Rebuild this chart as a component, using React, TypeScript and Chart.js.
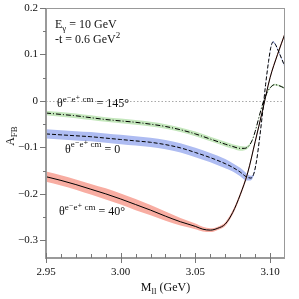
import { useEffect, useRef } from "react";
import { Chart, registerables } from "chart.js";

Chart.register(...registerables);

// ---- Data ----
const redX = [2.95, 2.96, 2.97, 2.98, 2.99, 3.0, 3.01, 3.02, 3.03, 3.04, 3.05, 3.055, 3.06, 3.065, 3.07, 3.075, 3.08, 3.085, 3.09, 3.095, 3.1, 3.105, 3.11];
const redY = [-0.163, -0.171, -0.18, -0.19, -0.2, -0.211, -0.223, -0.235, -0.248, -0.26, -0.27, -0.276, -0.278, -0.274, -0.265, -0.24, -0.202, -0.155, -0.088, -0.02, 0.05, 0.1, 0.145];
const redErr = [0.011, 0.011, 0.011, 0.0115, 0.012, 0.012, 0.012, 0.011, 0.01, 0.008, 0.006, 0.005, 0.004, 0.0035, 0.004, 0.0045, 0.0045, 0.0045, 0.0045, 0.004, 0.004, 0.004, 0.004];

const blueX = [2.95, 2.96, 2.97, 2.98, 2.99, 3.0, 3.01, 3.02, 3.03, 3.04, 3.05, 3.06, 3.07, 3.075, 3.08, 3.084, 3.087, 3.089, 3.091, 3.093, 3.095, 3.097, 3.099, 3.1005, 3.102, 3.1035, 3.1055, 3.108, 3.11];
const blueY = [-0.071, -0.073, -0.075, -0.077, -0.08, -0.083, -0.086, -0.089, -0.094, -0.101, -0.111, -0.122, -0.135, -0.143, -0.153, -0.163, -0.166, -0.158, -0.128, -0.08, -0.025, 0.035, 0.085, 0.115, 0.127, 0.122, 0.108, 0.089, 0.073];
const blueErr = [0.01, 0.01, 0.01, 0.01, 0.01, 0.01, 0.01, 0.01, 0.01, 0.01, 0.01, 0.01, 0.01, 0.009, 0.009, 0.008, 0.005, 0.003, 0.002, 0.002, 0.002, 0.002, 0.002, 0.002, 0.002, 0.002, 0.002, 0.002, 0.002];

const greenX = [2.95, 2.96, 2.97, 2.98, 2.99, 3.0, 3.01, 3.02, 3.03, 3.04, 3.05, 3.06, 3.07, 3.075, 3.08, 3.083, 3.086, 3.088, 3.09, 3.092, 3.094, 3.096, 3.098, 3.1, 3.103, 3.106, 3.11];
const greenY = [-0.026, -0.029, -0.032, -0.036, -0.04, -0.043, -0.046, -0.05, -0.055, -0.062, -0.071, -0.082, -0.093, -0.098, -0.102, -0.102, -0.096, -0.085, -0.066, -0.042, -0.018, 0.003, 0.018, 0.028, 0.035, 0.033, 0.027];
const greenErr = [0.005, 0.005, 0.005, 0.005, 0.005, 0.005, 0.005, 0.005, 0.005, 0.005, 0.005, 0.005, 0.005, 0.005, 0.005, 0.004, 0.003, 0.002, 0.002, 0.002, 0.002, 0.002, 0.002, 0.002, 0.002, 0.002, 0.002];

const xTicks = [2.95, 3.0, 3.05, 3.1];
const xTickLabels = ["2.95", "3.00", "3.05", "3.10"];
const xMinorTicks = [2.96, 2.97, 2.98, 2.99, 3.01, 3.02, 3.03, 3.04, 3.06, 3.07, 3.08, 3.09];
const yTicks = [-0.3, -0.2, -0.1, 0, 0.1, 0.2];
const yTickLabels = ["\u22120.3", "\u22120.2", "\u22120.1", "0", "0.1", "0.2"];
const yMinorTicks = [-0.25, -0.15, -0.05, 0.05, 0.15];

type Part = { t: string; k?: "sub" | "sup" };
const xTitle: Part[] = [{ t: "M" }, { t: "ll", k: "sub" }, { t: " (GeV)" }];
const yTitle: Part[] = [{ t: "A" }, { t: "FB", k: "sub" }];
const noteEnergy: Part[] = [{ t: "E" }, { t: "\u03b3", k: "sub" }, { t: " = 10 GeV" }];
const noteT: Part[] = [{ t: "-t = 0.6 GeV" }, { t: "2", k: "sup" }];
const note145: Part[] = [{ t: "\u03b8" }, { t: "e\u207be\u207a cm", k: "sup" }, { t: " = 145\u00b0" }];
const note0: Part[] = [{ t: "\u03b8" }, { t: "e\u207be\u207a cm", k: "sup" }, { t: " = 0" }];
const note40: Part[] = [{ t: "\u03b8" }, { t: "e\u207be\u207a cm", k: "sup" }, { t: " = 40\u00b0" }];

// positions of annotations (data coordinates)
const notes: { parts: Part[]; x: number; y: number }[] = [
  { parts: noteEnergy, x: 2.956, y: 0.158 },
  { parts: noteT, x: 2.956, y: 0.125 },
  { parts: note145, x: 2.9574, y: -0.0135 },
  { parts: note0, x: 2.9627, y: -0.111 },
  { parts: note40, x: 2.9587, y: -0.245 },
];

const FAM = "Liberation Serif, DejaVu Serif, serif";

function richWidth(ctx: CanvasRenderingContext2D, parts: Part[], size: number) {
  let w = 0;
  for (const p of parts) {
    ctx.font = `${p.k ? Math.round(size * 0.72) : size}px ${FAM}`;
    w += ctx.measureText(p.t).width;
  }
  return w;
}

function drawRich(ctx: CanvasRenderingContext2D, parts: Part[], x: number, y: number, size: number, center = false) {
  let cx = center ? x - richWidth(ctx, parts, size) / 2 : x;
  ctx.textBaseline = "alphabetic";
  ctx.textAlign = "left";
  for (const p of parts) {
    ctx.font = `${p.k ? Math.round(size * 0.72) : size}px ${FAM}`;
    const dy = p.k === "sub" ? size * 0.28 : p.k === "sup" ? -size * 0.42 : 0;
    ctx.fillText(p.t, cx, y + dy);
    cx += ctx.measureText(p.t).width;
  }
}

const decoPlugin = {
  id: "deco",
  beforeDatasetsDraw(chart: any) {
    const { ctx, chartArea: a, scales } = chart;
    const y0 = Math.round(scales.y.getPixelForValue(0)) + 0.5;
    ctx.save();
    ctx.strokeStyle = "#a8a8a8";
    ctx.lineWidth = 1;
    ctx.setLineDash([1.5, 2]);
    ctx.beginPath();
    ctx.moveTo(a.left, y0);
    ctx.lineTo(a.right, y0);
    ctx.stroke();
    ctx.restore();
  },
  afterDraw(chart: any) {
    const { ctx, chartArea: a, scales } = chart;
    const xs = scales.x;
    const ys = scales.y;
    ctx.save();
    // frame
    ctx.strokeStyle = "#999";
    ctx.lineWidth = 1;
    ctx.strokeRect(a.left + 0.5, a.top + 0.5, a.right - a.left - 1, a.bottom - a.top - 1);
    ctx.strokeStyle = "#9a9a9a";
    ctx.lineWidth = 2;
    ctx.beginPath();
    ctx.moveTo(a.left, a.top);
    ctx.lineTo(a.left, a.bottom);
    ctx.lineTo(a.right, a.bottom);
    ctx.stroke();
    // ticks
    ctx.lineWidth = 1;
    ctx.strokeStyle = "#777";
    ctx.beginPath();
    for (const v of xTicks) {
      const px = Math.round(xs.getPixelForValue(v)) + 0.5;
      ctx.moveTo(px, a.bottom - 5);
      ctx.lineTo(px, a.bottom + 5);
    }
    for (const v of xMinorTicks) {
      const px = Math.round(xs.getPixelForValue(v)) + 0.5;
      ctx.moveTo(px, a.bottom - 4);
      ctx.lineTo(px, a.bottom);
    }
    for (const v of yTicks) {
      const py = Math.round(ys.getPixelForValue(v)) + 0.5;
      ctx.moveTo(a.left - 6, py);
      ctx.lineTo(a.left, py);
    }
    for (const v of yMinorTicks) {
      const py = Math.round(ys.getPixelForValue(v)) + 0.5;
      ctx.moveTo(a.left - 3, py);
      ctx.lineTo(a.left, py);
    }
    ctx.stroke();
    // texts
    ctx.fillStyle = "#111";
    for (const n of notes) {
      drawRich(ctx, n.parts, xs.getPixelForValue(n.x), ys.getPixelForValue(n.y), 12);
    }
    drawRich(ctx, xTitle, (a.left + a.right) / 2, 291, 12, true);
    ctx.translate(14, 136);
    ctx.rotate(-Math.PI / 2);
    drawRich(ctx, yTitle, 0, 0, 12, true);
    ctx.restore();
  },
};

function bandSets(xs: number[], ys: number[], es: number[], color: string) {
  const common = {
    borderWidth: 0,
    pointRadius: 0,
    cubicInterpolationMode: "monotone" as const,
    order: 1,
  };
  return [
    { ...common, data: xs.map((x, i) => ({ x, y: ys[i] - es[i] })), fill: false, borderColor: "transparent" },
    { ...common, data: xs.map((x, i) => ({ x, y: ys[i] + es[i] })), fill: "-1", borderColor: "transparent", backgroundColor: color },
  ];
}

function lineSet(xs: number[], ys: number[], dash: number[]) {
  return {
    data: xs.map((x, i) => ({ x, y: ys[i] })),
    borderColor: "#000",
    borderWidth: 1,
    borderDash: dash,
    pointRadius: 0,
    fill: false,
    cubicInterpolationMode: "monotone" as const,
    order: 0,
  };
}

export default function App() {
  const ref = useRef<HTMLCanvasElement>(null);
  useEffect(() => {
    if (!ref.current) return;
    let chart: Chart | null = null;
    let cancelled = false;
    const build = () => {
      if (cancelled || !ref.current) return;
      const tickFont = { family: FAM, size: 11 };
      chart = new Chart(ref.current, {
        type: "line",
        data: {
          datasets: [
            ...bandSets(redX, redY, redErr, "#f8ada2"),
            ...bandSets(blueX, blueY, blueErr, "#aebcf2"),
            ...bandSets(greenX, greenY, greenErr, "#c4e7bc"),
            lineSet(redX, redY, []),
            lineSet(blueX, blueY, [4, 2]),
            lineSet(greenX, greenY, [5, 2, 1, 2]),
          ] as any,
        },
        options: {
          animation: false,
          responsive: false,
          devicePixelRatio: 1,
          font: { family: FAM },
          layout: { padding: { top: 8, right: 14, left: 0, bottom: 0 } },
          plugins: { legend: { display: false }, tooltip: { enabled: false } },
          scales: {
            x: {
              type: "linear",
              min: 2.95,
              max: 3.11,
              afterBuildTicks: (s: any) => {
                s.ticks = xTicks.map((v) => ({ value: v }));
              },
              afterFit: (s: any) => {
                s.height = 41;
                s.paddingLeft = 0;
                s.paddingRight = 0;
              },
              ticks: {
                autoSkip: false,
                maxRotation: 0,
                padding: 8,
                color: "#111",
                font: tickFont,
                callback: (_v: any, i: number) => xTickLabels[i],
              },
              grid: { display: false, drawTicks: false },
              border: { display: false },
            },
            y: {
              type: "linear",
              min: -0.338,
              max: 0.2,
              afterBuildTicks: (s: any) => {
                s.ticks = yTicks.map((v) => ({ value: v }));
              },
              afterFit: (s: any) => {
                s.width = 46;
                s.paddingTop = 0;
                s.paddingBottom = 0;
              },
              ticks: {
                autoSkip: false,
                padding: 8,
                color: "#111",
                font: tickFont,
                callback: (_v: any, i: number) => yTickLabels[i],
              },
              grid: { display: false, drawTicks: false },
              border: { display: false },
            },
          },
        } as any,
        plugins: [decoPlugin],
      });
    };
    const fonts: any = (document as any).fonts;
    if (fonts && fonts.load) {
      Promise.all([
        fonts.load('12px "Liberation Serif"'),
        fonts.load('11px "Liberation Serif"'),
        fonts.load('9px "Liberation Serif"'),
      ])
        .catch(() => null)
        .then(build);
    } else {
      build();
    }
    return () => {
      cancelled = true;
      if (chart) chart.destroy();
    };
  }, []);
  return (
    <div style={{ position: "absolute", left: 0, top: 0, width: 299, height: 299, background: "#fff", fontFamily: FAM }}>
      <canvas ref={ref} width={299} height={299} />
    </div>
  );
}
